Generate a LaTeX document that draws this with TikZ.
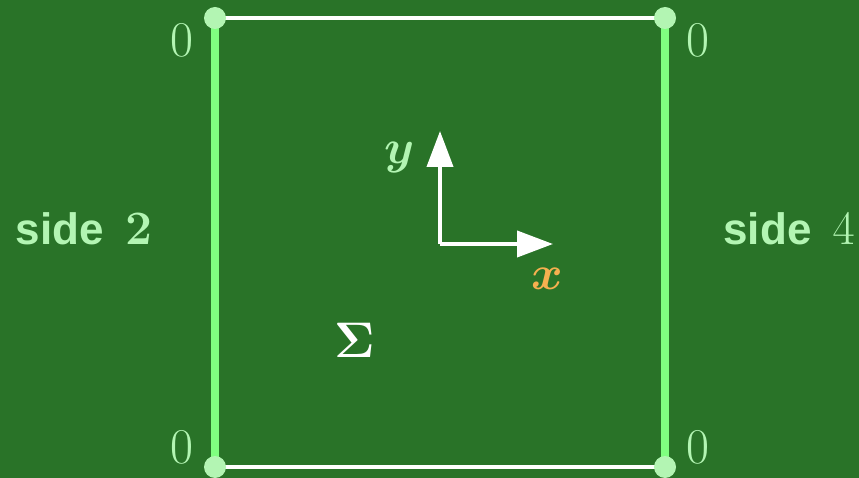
\RequirePackage{fix-cm}
\documentclass[tikz,border=0pt]{standalone}
\usepackage{fontspec}
\usepackage{amsmath,bm}
\newfontfamily\sidefont{Liberation Sans}
\usetikzlibrary{arrows.meta}
\definecolor{bg}{HTML}{297328}
\definecolor{sideg}{HTML}{80FF80}
\definecolor{dotg}{HTML}{B3F5B3}
\definecolor{txtg}{HTML}{B3F5B3}
\definecolor{xorange}{HTML}{F5B050}
\begin{document}
\begin{tikzpicture}[x=1pt,y=-1pt,
  corner/.style={circle,fill=dotg,inner sep=0pt,minimum size=22pt},
  sideline/.style={sideg,line width=7.5pt},
  edgeline/.style={white,line width=3.5pt},
  axis/.style={white,line width=4pt,-{Triangle[length=36pt,width=26pt]}},
  zero/.style={text=txtg,font=\fontsize{50}{54}\selectfont,inner sep=0pt},
  sidelab/.style={text=txtg,font=\fontsize{44}{48}\selectfont,inner sep=0pt}]
\fill[bg] (0,0) rectangle (859,478);
\useasboundingbox (0,0) rectangle (859,478);
\coordinate (tl) at (215,18);
\coordinate (tr) at (665,18);
\coordinate (bl) at (215,467);
\coordinate (br) at (665,467);
\draw[edgeline] (tl) -- (tr);
\draw[edgeline] (bl) -- (br);
\draw[sideline] (tl) -- (bl);
\draw[sideline] (tr) -- (br);
\node[corner] (ctl) at (tl) {};
\node[corner] (ctr) at (tr) {};
\node[corner] (cbl) at (bl) {};
\node[corner] (cbr) at (br) {};
\node[zero] (z1) at (182,40) {$0$};
\node[zero] (z2) at (698,40) {$0$};
\node[zero] (z3) at (182,447) {$0$};
\node[zero] (z4) at (698,447) {$0$};
\node[sidelab] (s2) at (84,229) {{\sidefont\bfseries side}\hspace{21pt}{\fontsize{48}{52}\selectfont$\boldsymbol{2}$}};
\node[sidelab] (s4) at (789,229) {{\sidefont\bfseries side}\hspace{21pt}{\fontsize{48}{52}\selectfont$4$}};
\coordinate (o) at (440,244);
\coordinate (ytip) at (440,131);
\coordinate (xtip) at (553,244);
\draw[axis] (o) -- (ytip);
\draw[axis] (o) -- (xtip);
\node[text=txtg,font=\fontsize{48}{52}\selectfont,inner sep=0pt] (ylab) at (400,158) {$\boldsymbol{y}$};
\node[text=xorange,font=\fontsize{48}{52}\selectfont,inner sep=0pt] (xlab) at (547,279) {$\boldsymbol{x}$};
\node[text=white,font=\fontsize{50}{54}\selectfont,inner sep=0pt] (sig) at (355,340) {$\boldsymbol{\Sigma}$};
\end{tikzpicture}
\end{document}
